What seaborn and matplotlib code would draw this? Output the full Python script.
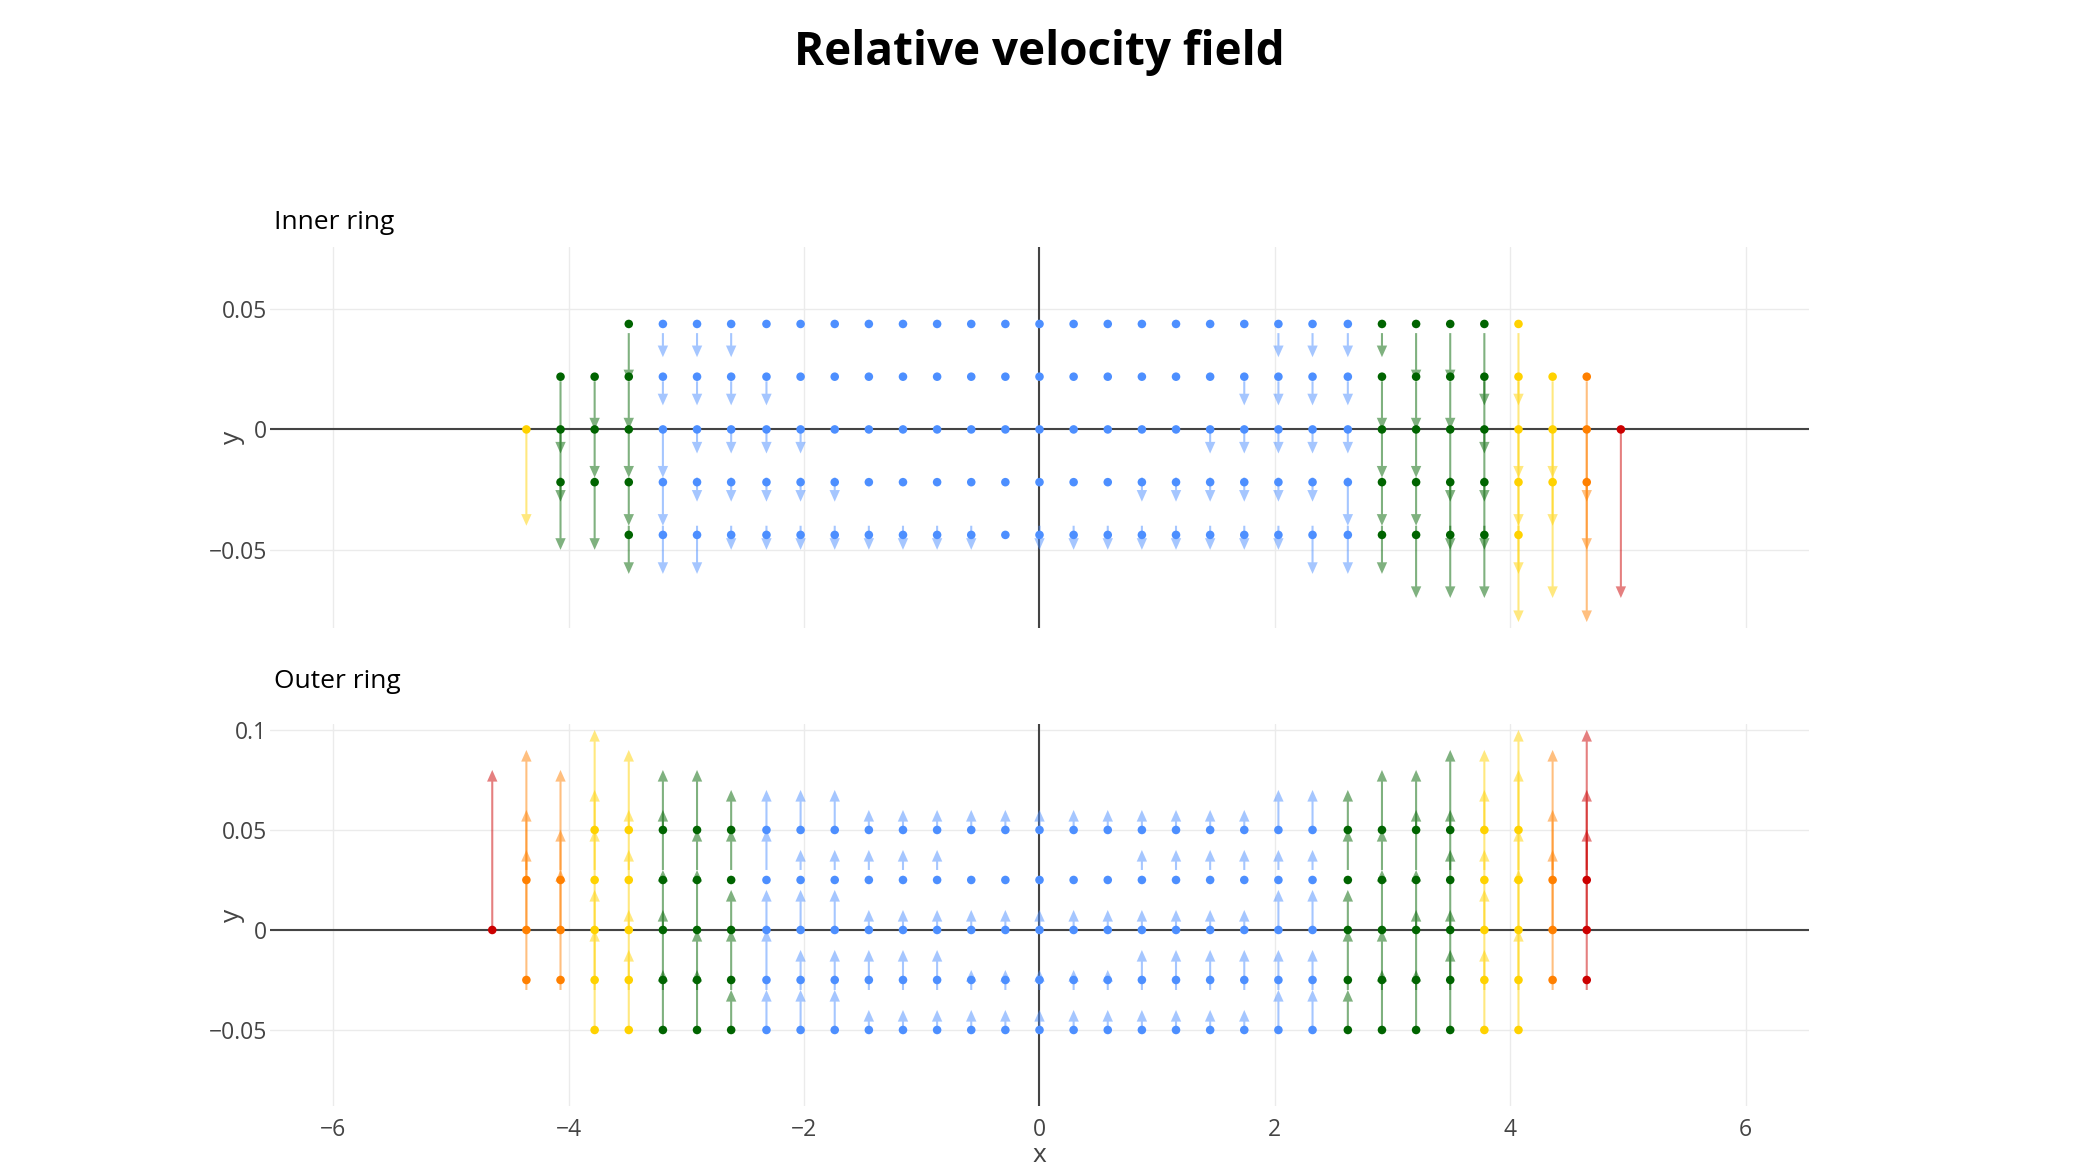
import matplotlib.pyplot as plt
import pandas as pd
import seaborn as sns

# x positions of the sampling grid (column index k = -17 ... 17)
X_COLS = [-4.94, -4.65, -4.36, -4.07, -3.78, -3.49, -3.2, -2.91, -2.62, -2.32, -2.03, -1.74,
          -1.45, -1.16, -0.87, -0.58, -0.29, 0.0, 0.29, 0.58, 0.87, 1.16, 1.45, 1.74,
          2.03, 2.32, 2.62, 2.91, 3.2, 3.49, 3.78, 4.07, 4.36, 4.65, 4.94]
K_OFFSET = 17

# group colours: B = slow ... R = fast
PALETTE = {'B': '#4d8fff', 'G': '#006400', 'Y': '#ffd200', 'O': '#ff8000', 'R': '#cc0000'}

# Inner ring
INNER_Y = [0.0438, 0.0219, 0.0, -0.0219, -0.0438]
INNER_TAIL_Y = [0.04, 0.02, 0.0, -0.02, -0.04]
INNER_FIRST_K = [-12, -14, -15, -14, -12]
INNER_GROUPS = [
    'G' + 'B' * 21 + 'GGGG' + 'Y',
    'GGG' + 'B' * 21 + 'GGGG' + 'YY' + 'O',
    'Y' + 'GGG' + 'B' * 21 + 'GGGG' + 'YY' + 'O' + 'R',
    'GGG' + 'B' * 21 + 'GGGG' + 'YY' + 'O',
    'G' + 'B' * 21 + 'GGGG' + 'Y',
]
INNER_DY = [
    [-0.02, -0.01, -0.01, -0.01, 0, 0, 0, 0, 0, 0, 0, 0, 0, 0, 0, 0, 0, 0, 0,
     -0.01, -0.01, -0.01, -0.01, -0.02, -0.02, -0.03, -0.03],
    [-0.03, -0.02, -0.02, -0.01, -0.01, -0.01, -0.01, 0, 0, 0, 0, 0, 0, 0, 0, 0, 0, 0, 0, 0,
     -0.01, -0.01, -0.01, -0.01, -0.02, -0.02, -0.02, -0.03, -0.04, -0.04, -0.05],
    [-0.04, -0.03, -0.02, -0.02, -0.02, -0.01, -0.01, -0.01, -0.01, 0, 0, 0, 0, 0, 0, 0, 0, 0, 0, 0,
     -0.01, -0.01, -0.01, -0.01, -0.01, -0.02, -0.02, -0.03, -0.03, -0.04, -0.04, -0.05, -0.07],
    [-0.03, -0.03, -0.02, -0.02, -0.01, -0.01, -0.01, -0.01, -0.01, 0, 0, 0, 0, 0, 0, 0, 0,
     -0.01, -0.01, -0.01, -0.01, -0.01, -0.01, -0.02, -0.02, -0.02, -0.03, -0.03, -0.04, -0.05, -0.06],
    [-0.02, -0.02, -0.02, -0.01, -0.01, -0.01, -0.01, -0.01, -0.01, -0.01, -0.01, 0,
     -0.01, -0.01, -0.01, -0.01, -0.01, -0.01, -0.01, -0.01, -0.02, -0.02, -0.02, -0.03, -0.03, -0.03, -0.04],
]

# Outer ring
OUTER_Y = [0.05, 0.025, 0.0, -0.025, -0.05]
OUTER_TAIL_Y = [0.05, 0.03, 0.0, -0.03, -0.05]
OUTER_FIRST_K = [-13, -15, -16, -15, -13]
OUTER_GROUPS = [
    'YY' + 'GGG' + 'B' * 17 + 'GGGG' + 'YY',
    'OO' + 'YY' + 'GGG' + 'B' * 17 + 'GGGG' + 'YY' + 'O' + 'R',
    'R' + 'OO' + 'YY' + 'GGG' + 'B' * 17 + 'GGGG' + 'YY' + 'O' + 'R',
    'OO' + 'YY' + 'GGG' + 'B' * 17 + 'GGGG' + 'YY' + 'O' + 'R',
    'YY' + 'GGG' + 'B' * 17 + 'GGGG' + 'YY',
]
OUTER_DY = [
    [0.05, 0.04, 0.03, 0.03, 0.02, 0.02, 0.02, 0.02, 0.01, 0.01, 0.01, 0.01, 0.01, 0.01,
     0.01, 0.01, 0.01, 0.01, 0.01, 0.01, 0.02, 0.02, 0.02, 0.03, 0.03, 0.04, 0.04, 0.05],
    [0.06, 0.05, 0.04, 0.03, 0.03, 0.02, 0.02, 0.02, 0.01, 0.01, 0.01, 0.01, 0.01, 0, 0, 0, 0, 0,
     0.01, 0.01, 0.01, 0.01, 0.01, 0.01, 0.02, 0.02, 0.03, 0.03, 0.04, 0.05, 0.06, 0.07],
    [0.08, 0.06, 0.05, 0.05, 0.04, 0.03, 0.03, 0.02, 0.02, 0.02, 0.02, 0.01, 0.01, 0.01, 0.01, 0.01,
     0.01, 0.01, 0.01, 0.01, 0.01, 0.01, 0.01, 0.02, 0.02, 0.02, 0.03, 0.03, 0.04, 0.04, 0.05, 0.06, 0.07],
    [0.07, 0.06, 0.05, 0.04, 0.04, 0.03, 0.03, 0.03, 0.02, 0.02, 0.02, 0.02, 0.02, 0.01, 0.01, 0.01,
     0.01, 0.01, 0.02, 0.02, 0.02, 0.02, 0.02, 0.02, 0.03, 0.03, 0.04, 0.04, 0.05, 0.06, 0.07, 0.08],
    [0.05, 0.04, 0.03, 0.03, 0.02, 0.02, 0.02, 0.02, 0.01, 0.01, 0.01, 0.01, 0.01, 0.01,
     0.01, 0.01, 0.01, 0.01, 0.01, 0.01, 0.02, 0.02, 0.02, 0.03, 0.03, 0.04, 0.04, 0.05],
]

X_TICKS = [-6, -4, -2, 0, 2, 4, 6]
X_TICK_LABELS = ['\u22126', '\u22124', '\u22122', '0', '2', '4', '6']
INNER_Y_TICKS = [-0.05, 0, 0.05]
INNER_Y_TICK_LABELS = ['\u22120.05', '0', '0.05']
OUTER_Y_TICKS = [-0.05, 0, 0.05, 0.1]
OUTER_Y_TICK_LABELS = ['\u22120.05', '0', '0.05', '0.1']


def build_points(ys, tails, first_k, groups, dys):
    rows = []
    for y, tail, k0, grp, dy_row in zip(ys, tails, first_k, groups, dys):
        for i, (g, dy) in enumerate(zip(grp, dy_row)):
            rows.append({'x': X_COLS[k0 + i + K_OFFSET], 'y': y, 'tail': tail, 'dy': dy, 'group': g})
    return pd.DataFrame(rows)


def draw_panel(ax, df, yticks, ytick_labels, ylim, show_x):
    ax.axhline(0, color='#444444', lw=1.5, zorder=1)
    ax.axvline(0, color='#444444', lw=1.5, zorder=1)
    sns.scatterplot(data=df, x='x', y='y', hue='group', palette=PALETTE, s=38, linewidth=0,
                    legend=False, ax=ax, zorder=3)
    # velocity arrows on top of the points (one filled polygon each, so no darker heads)
    arr = df[df['dy'] != 0]
    ax.quiver(arr['x'], arr['tail'], [0.0] * len(arr), arr['dy'],
              color=[PALETTE[g] for g in arr['group']], alpha=0.5,
              angles='xy', scale_units='xy', scale=1, pivot='tail',
              width=0.00135, headwidth=5.0, headlength=5.6, headaxislength=5.6,
              linewidth=0, zorder=4)
    ax.set_xlim(-6.538, 6.538)
    ax.set_ylim(*ylim)
    ax.set_xticks(X_TICKS)
    ax.set_xticklabels(X_TICK_LABELS if show_x else [])
    ax.set_yticks(yticks)
    ax.set_yticklabels(ytick_labels)
    ax.set_xlabel('')
    ax.set_ylabel('')
    ax.grid(True, color='#ebebeb', lw=1.0, zorder=0)
    ax.set_axisbelow(True)
    for s in ax.spines.values():
        s.set_visible(False)
    ax.tick_params(axis='both', length=0, labelsize=16.5, labelcolor='#444444')
    ax.tick_params(axis='y', pad=2)
    ax.tick_params(axis='x', pad=8.5)


sns.set_theme(style='white')
plt.rcParams['font.family'] = ['Open Sans', 'DejaVu Sans']

fig = plt.figure(figsize=(20.79, 11.69), dpi=100)
ax_in = fig.add_axes([0.1299, 0.4625, 0.7402, 0.3265])
ax_out = fig.add_axes([0.1299, 0.0539, 0.7402, 0.3268])

inner = build_points(INNER_Y, INNER_TAIL_Y, INNER_FIRST_K, INNER_GROUPS, INNER_DY)
outer = build_points(OUTER_Y, OUTER_TAIL_Y, OUTER_FIRST_K, OUTER_GROUPS, OUTER_DY)

draw_panel(ax_in, inner, INNER_Y_TICKS, INNER_Y_TICK_LABELS, (-0.0826, 0.0759), False)
draw_panel(ax_out, outer, OUTER_Y_TICKS, OUTER_Y_TICK_LABELS, (-0.088, 0.103), True)

fig.text(0.5, 0.9444, 'Relative velocity field', ha='center', va='baseline',
         fontsize=33, fontweight='bold', color='black')
fig.text(0.1318, 0.8038, 'Inner ring', ha='left', va='baseline', fontsize=19, color='black')
fig.text(0.1318, 0.4114, 'Outer ring', ha='left', va='baseline', fontsize=19, color='black')
fig.text(0.1116, 1 - 437.5 / 1169, 'y', ha='center', va='center', rotation=90, fontsize=19, color='#444444')
fig.text(0.1116, 1 - 915 / 1169, 'y', ha='center', va='center', rotation=90, fontsize=19, color='#444444')
fig.text(0.5, 1 - 1155 / 1169, 'x', ha='center', va='center', fontsize=19, color='#444444')

fig.savefig('out.png', dpi=100)
